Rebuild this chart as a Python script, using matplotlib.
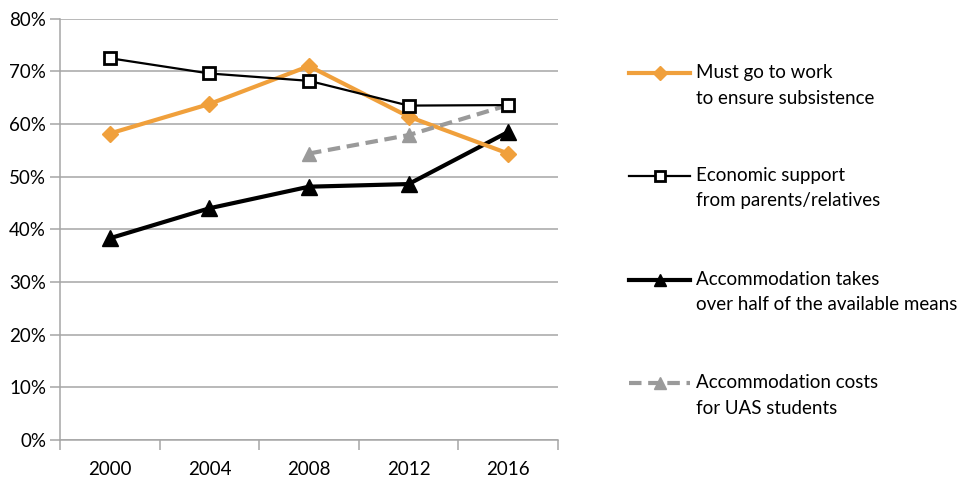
import matplotlib
matplotlib.use("Agg")
import matplotlib.pyplot as plt
from matplotlib.lines import Line2D
from matplotlib.ticker import FixedLocator, PercentFormatter

plt.rcParams['font.family'] = ['Lato', 'DejaVu Sans']

years = ["2000", "2004", "2008", "2012", "2016"]
must_work = [58.2, 63.8, 71.0, 61.4, 54.4]
econ_support = [72.5, 69.6, 68.2, 63.5, 63.6]
accom_half = [38.3, 44.0, 48.1, 48.6, 58.5]
uas_years = ["2008", "2012", "2016"]
uas_costs = [54.4, 57.9, 63.6]

labels = ["Must go to work\nto ensure subsistence",
          "Economic support\nfrom parents/relatives",
          "Accommodation takes\nover half of the available means",
          "Accommodation costs\nfor UAS students"]

orange = "#F0A03C"
gray = "#9A9A9A"
gridc = "#A6A6A6"
fs = 13.5

fig = plt.figure(figsize=(9.66, 4.83), dpi=100)
ax = fig.add_axes([60/966, 1-440/483, (558-60)/966, (440-18.7)/483])

xi = list(range(len(years)))
xu = [years.index(y) for y in uas_years]

styles = [
    dict(color=orange, lw=3, marker="D", ms=8, mfc=orange, mec=orange, ls="-"),
    dict(color="black", lw=1.6, marker="s", ms=8, mfc="white", mec="black", mew=2, ls="-"),
    dict(color="black", lw=3, marker="^", ms=11, mfc="black", mec="black", ls="-"),
    dict(color=gray, lw=3, marker="^", ms=10, mfc=gray, mec=gray, ls=(0, (3, 1.6))),
]

ax.plot(xi, must_work, zorder=4, **styles[0])
ax.plot(xi, econ_support, zorder=5, **styles[1])
ax.plot(xi, accom_half, zorder=3, **styles[2])
ax.plot(xu, uas_costs, zorder=4, **styles[3])

ax.set_xlim(-0.5, len(years) - 0.5)
ax.set_ylim(0, 80)
ax.set_yticks(range(0, 81, 10))
ax.yaxis.set_major_formatter(PercentFormatter(decimals=0))
ax.grid(axis="y", color=gridc, lw=1.1)
ax.set_axisbelow(True)

ax.xaxis.set_major_locator(FixedLocator([i - 0.5 for i in range(len(years) + 1)]))
ax.xaxis.set_minor_locator(FixedLocator(xi))
ax.set_xticklabels([])
ax.set_xticklabels(years, minor=True)
ax.tick_params(axis="x", which="major", length=7, color=gridc, width=1.1)
ax.tick_params(axis="x", which="minor", length=0, pad=15, labelsize=fs, labelcolor="black")
ax.tick_params(axis="y", length=7, color=gridc, width=1.1, labelsize=fs, pad=3)

for s in ["top", "right"]:
    ax.spines[s].set_visible(False)
for s in ["left", "bottom"]:
    ax.spines[s].set_color(gridc)
    ax.spines[s].set_linewidth(1.1)

# manual legend
ys = [73.3, 176, 280, 383.3]
x0, x1 = 629/966, 690/966
for st, lab, yp in zip(styles, labels, ys):
    yf = 1 - yp/483
    kw = dict(st)
    kw["ms"] = kw["ms"] * 0.85
    ln = Line2D([x0, (x0+x1)/2, x1], [yf, yf, yf], transform=fig.transFigure,
                markevery=[1], **kw)
    fig.add_artist(ln)
    fig.text(696/966, 1 - (yp - 9)/483, lab, ha="left", va="top",
             fontsize=fs, linespacing=1.6)

fig.savefig("out.png", dpi=100)
